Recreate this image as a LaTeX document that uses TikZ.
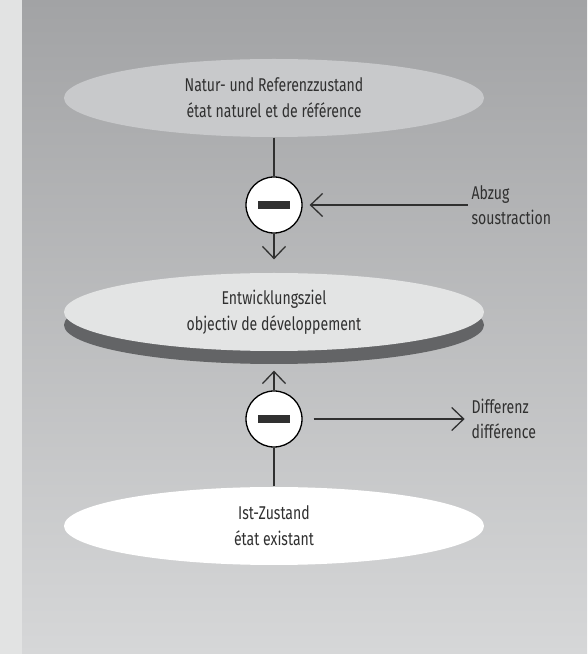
\documentclass[tikz,border=0pt]{standalone}
\usepackage{fontspec}
\setmainfont[FakeStretch=0.76]{Fira Sans}
\usepackage{tikz}
\usetikzlibrary{arrows.meta}
\usetikzlibrary{positioning}
\usetikzlibrary{shapes.geometric}
\usetikzlibrary{shadows}
\definecolor{stripgray}{HTML}{E2E3E3}
\definecolor{bgtop}{HTML}{A2A3A5}
\definecolor{bgbottom}{HTML}{D6D7D8}
\definecolor{naturgray}{HTML}{C8C9CB}
\definecolor{zielgray}{HTML}{E3E4E4}
\definecolor{rimgray}{HTML}{636466}
\definecolor{linegray}{HTML}{303030}
\tikzset{zustand/.style={ellipse, minimum width=420pt, minimum height=78pt, inner sep=0pt, align=center, font=\fontsize{18.5pt}{26pt}\selectfont}}
\tikzset{minus/.style={circle, draw=black, fill=white, minimum size=56pt, inner sep=0pt}}
\tikzset{lbl/.style={align=left, font=\fontsize{18.5pt}{25pt}\selectfont}}
\tikzset{rim/.style={drop shadow={shadow xshift=0pt, shadow yshift=-13pt, fill=rimgray, opacity=1}}}

\begin{document}
\begin{tikzpicture}[->,>={Straight Barb[length=12pt,width=23pt]},node distance=107pt,
                    line width=1.3pt, color=linegray]
   \useasboundingbox (0,0) rectangle (587pt,654pt);
   \fill[stripgray] (0,0) rectangle (22pt,654pt);
   \shade[top color=bgtop, bottom color=bgbottom] (22pt,0) rectangle (587pt,654pt);

   \node[zustand, fill=naturgray] (natur) at (274pt,556pt)
      {Natur- und Referenzzustand\\état naturel et de référence};
   \node[minus] (abzug) [below of=natur] {\rule[-4pt]{32pt}{8pt}};
   \node[zustand, fill=zielgray, rim] (ziel) [below of=abzug]
      {Entwicklungsziel\\objectiv de développement};
   \node[minus] (diff) [below of=ziel] {\rule[-4pt]{32pt}{8pt}};
   \node[zustand, fill=white] (ist) [below of=diff]
      {Ist-Zustand\\état existant};

   \node[lbl] (abzugtxt) [right=165pt of abzug] {Abzug\\soustraction};
   \node[lbl] (difftxt) [right=165pt of diff] {Differenz\\différence};

   \draw[-] (natur) -- (abzug);
   \draw[shorten >=13pt] (abzug) -- (ziel);
   \draw[shorten >=7pt] (abzugtxt) -- (abzug);
   \draw[-] (ist) -- (diff);
   \draw[shorten >=19pt] (diff) -- (ziel);
   \draw[shorten <=11pt, shorten >=3pt] (diff) -- (difftxt);
\end{tikzpicture}
\end{document}
